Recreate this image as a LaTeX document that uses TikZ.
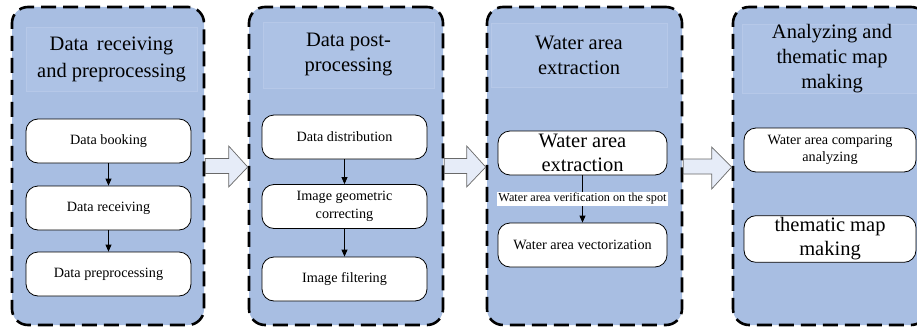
\documentclass[tikz,border=0pt]{standalone}
\usepackage{fontspec}
\setmainfont{Liberation Serif}
\usetikzlibrary{arrows.meta,calc}
\definecolor{panelfill}{RGB}{168,190,226}
\definecolor{titlefill}{RGB}{173,194,229}
\definecolor{titleline}{RGB}{182,200,232}
\definecolor{arrowfill}{RGB}{230,236,248}
\definecolor{arrowline}{RGB}{105,105,105}
\begin{document}
\begin{tikzpicture}[x=1pt,y=-1pt,
  panel/.style={draw=black, line width=2.6pt, dash pattern=on 15pt off 7pt,
    rounded corners=16pt, fill=panelfill, inner sep=0pt, minimum height=318pt},
  titlebox/.style={fill=titlefill, draw=titleline, line width=0.4pt, inner sep=0pt,
    align=center, font=\fontsize{20.5}{25}\selectfont},
  stepbox/.style={draw=black, line width=0.8pt, fill=white, rounded corners=12pt,
    minimum height=44pt, inner sep=2pt, align=center,
    font=\fontsize{14.2}{17.5}\selectfont},
  bigtext/.style={font=\fontsize{20.5}{24}\selectfont},
  flow/.style={-{Triangle[length=7pt,width=6pt]}, line width=0.8pt},
  lbl/.style={fill=white, inner xsep=1.5pt, inner ysep=1.5pt,
    font=\fontsize{12.2}{14}\selectfont},
  bigarrow/.style={draw=arrowline, fill=arrowfill, line width=0.7pt, line join=miter}
]
\useasboundingbox (0,0) rectangle (917,329);
\clip (0,0) rectangle (917,329);

% panels
\node[panel, minimum width=192pt] (p1) at (108,166) {};
\node[panel, minimum width=194pt] (p2) at (346,166) {};
\node[panel, minimum width=195pt] (p3) at (584.5,166) {};
\node[panel, minimum width=194pt] (p4) at (830,166) {};

% titles
\node[titlebox, font=\fontsize{20.5}{27}\selectfont, minimum width=171pt, minimum height=64pt] (t1) at (111.5,59)
  {Data\, receiving\\and preprocessing};
\node[titlebox, minimum width=171pt, minimum height=66pt] (t2) at (348.5,55)
  {Data post-\\processing};
\node[titlebox, minimum width=176pt, minimum height=64pt] (t3) at (579,55)
  {Water area\\extraction};
\node[titlebox, minimum width=180pt, minimum height=68pt] (t4) at (832,59)
  {Analyzing and\\thematic map\\making};

% panel 1 steps
\node[stepbox, minimum width=165pt] (b11) at (108.5,141) {Data booking};
\node[stepbox, minimum width=165pt] (b12) at (108.5,208) {Data receiving};
\node[stepbox, minimum width=165pt] (b13) at (108.5,274) {Data preprocessing};
\draw[flow] (b11) -- (b12);
\draw[flow] (b12) -- (b13);

% panel 2 steps
\node[stepbox, minimum width=165pt] (b21) at (344.5,137) {Data distribution};
\node[stepbox, minimum width=165pt] (b22) at (344.5,206.5) {Image geometric\\correcting};
\node[stepbox, minimum width=165pt] (b23) at (344.5,279) {Image filtering};
\draw[flow] (b21) -- (b22);
\draw[flow] (b22) -- (b23);

% panel 3 steps
\node[stepbox, bigtext, minimum width=169pt] (b31) at (582.5,153) {Water area\\extraction};
\node[stepbox, minimum width=169pt] (b32) at (582.5,245) {Water area vectorization};
\draw[flow] (b31) -- node[lbl] {Water area verification on the spot} (b32);

% panel 4 steps
\node[stepbox, minimum width=172pt] (b41) at (830,150) {Water area comparing\\analyzing};
\node[stepbox, bigtext, minimum width=172pt] (b42) at (830,239) {thematic map\\making};

% block arrows between panels
\draw[bigarrow] let \p1=(p1.east), \p2=(p2.west) in
  (\x1,{\y1+7.5pt}) -- ({\x2-19pt},{\y1+7.5pt}) -- ({\x2-19pt},{\y1+20pt}) --
  (\x2,{\y1-1pt}) -- ({\x2-19pt},{\y1-21pt}) -- ({\x2-19pt},{\y1-7.5pt}) --
  (\x1,{\y1-7.5pt}) -- cycle;
\draw[bigarrow] let \p1=(p2.east), \p2=(p3.west) in
  (\x1,{\y1+7.5pt}) -- ({\x2-19pt},{\y1+7.5pt}) -- ({\x2-19pt},{\y1+20pt}) --
  (\x2,{\y1-1pt}) -- ({\x2-19pt},{\y1-21pt}) -- ({\x2-19pt},{\y1-7.5pt}) --
  (\x1,{\y1-7.5pt}) -- cycle;
\draw[bigarrow] let \p1=(p3.east), \p2=(p4.west) in
  (\x1,{\y1+7pt}) -- ({\x2-20pt},{\y1+7pt}) -- ({\x2-20pt},{\y1+19pt}) --
  (\x2,{\y1-1pt}) -- ({\x2-20pt},{\y1-23pt}) -- ({\x2-20pt},{\y1-8pt}) --
  (\x1,{\y1-8pt}) -- cycle;
\end{tikzpicture}
\end{document}
